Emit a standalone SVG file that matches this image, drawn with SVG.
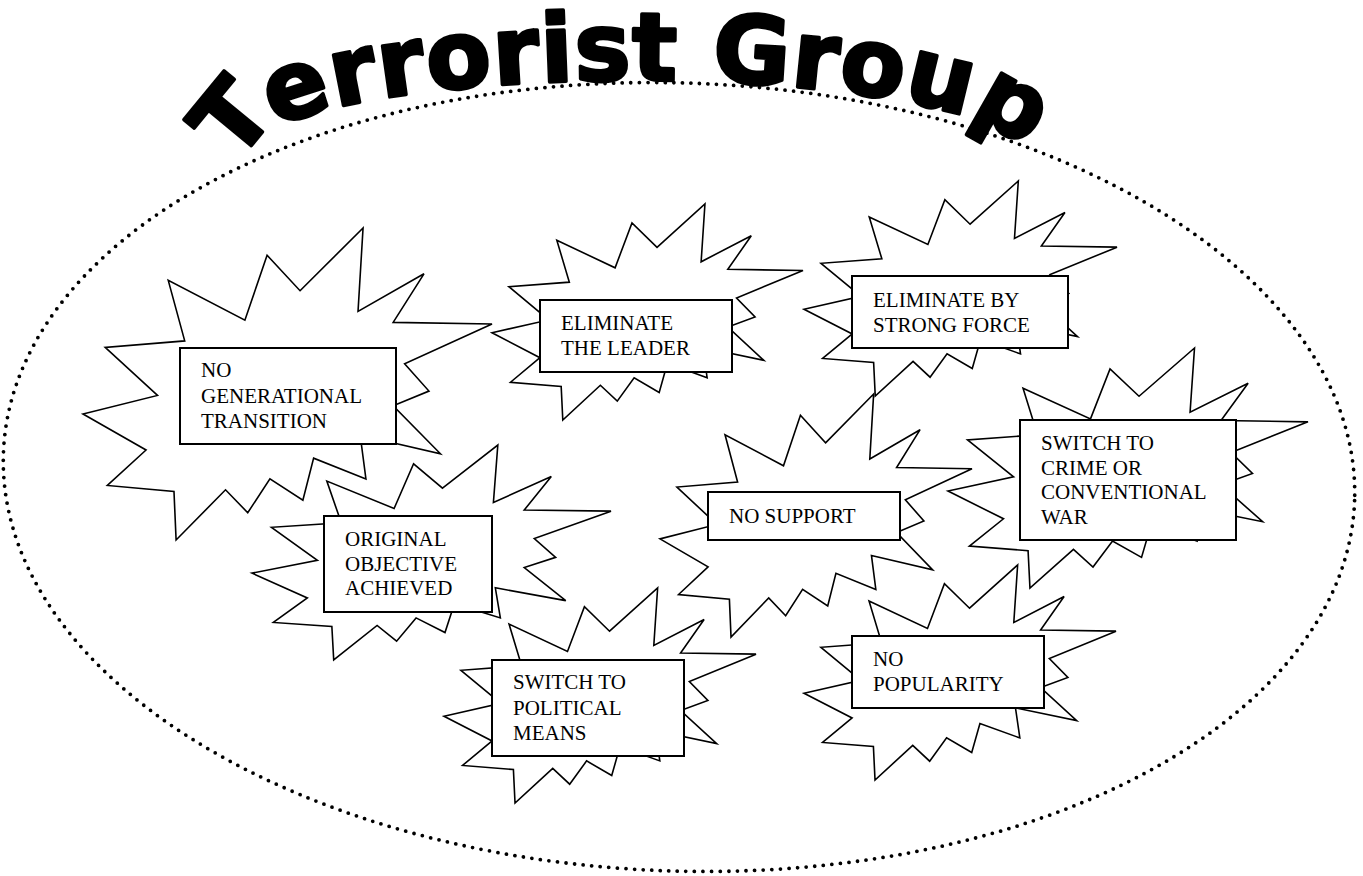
<svg xmlns="http://www.w3.org/2000/svg" width="1363" height="876" viewBox="0 0 1363 876">
<style>
.seal{fill:#fff;stroke:#000;stroke-width:1.6;vector-effect:non-scaling-stroke}
.box{fill:#fff;stroke:#000;stroke-width:2}
.lbl{font-size:21px;fill:#000}
.title{font-weight:700;font-size:94px;fill:#000;stroke:#000;stroke-width:3.5;stroke-linejoin:round;letter-spacing:1px}
</style>
<defs>
<path id="seal" class="seal" d="M0.53065,0.20102 L0.68472,0 L0.67245,0.26745 L0.83366,0.14685 L0.75833,0.30241 L1,0.30764 L0.78634,0.43528 L0.84583,0.52269 L0.75833,0.56991 L0.87394,0.72370 L0.67778,0.66435 L0.69176,0.80417 L0.56389,0.73773 L0.53759,0.87231 L0.45704,0.80417 L0.40278,0.91259 L0.34847,0.83912 L0.22764,1 L0.22245,0.84444 L0.05949,0.82523 L0.15417,0.71157 L0,0.59616 L0.18218,0.53667 L0.05426,0.38287 L0.24870,0.36190 L0.20843,0.16782 L0.39583,0.29546 L0.45009,0.08736 Z"/>
<path id="arc" d="M261.5,174.4 A385.6,75 0 1 1 1006.5,174.4"/>
</defs>
<rect width="1363" height="876" fill="#fff"/>
<ellipse id="group-outline" cx="679" cy="477" rx="676" ry="394" transform="rotate(2 679 477)" fill="none" stroke="#000" stroke-width="3.8" stroke-linecap="round" stroke-dasharray="0 8.6"/>
<text class="title" font-family="DejaVu Sans, sans-serif"><textPath href="#arc" startOffset="11">Terrorist Group</textPath></text>
<g id="connectors"></g>
<g font-family="Liberation Serif, Times New Roman, serif">
<g id="n-nogen">
<use href="#seal" transform="translate(83,228) scale(409,312)"/>
<rect class="box" x="180" y="348" width="216" height="96"/>
<text class="lbl" font-family="Liberation Serif, serif" x="201" y="377">NO<tspan x="201" dy="25.5">GENERATIONAL</tspan><tspan x="201" dy="25.5">TRANSITION</tspan></text>
</g>
<g id="n-leader">
<use href="#seal" transform="translate(492,204) scale(311,216)"/>
<rect class="box" x="540" y="300" width="192" height="72"/>
<text class="lbl" font-family="Liberation Serif, serif" x="561" y="330">ELIMINATE<tspan x="561" dy="25">THE LEADER</tspan></text>
</g>
<g id="n-force">
<use href="#seal" transform="translate(804,181) scale(313,215)"/>
<rect class="box" x="852" y="276" width="216" height="72"/>
<text class="lbl" font-family="Liberation Serif, serif" x="873" y="307">ELIMINATE BY<tspan x="873" dy="25">STRONG FORCE</tspan></text>
</g>
<g id="n-support">
<use href="#seal" transform="translate(660,394) scale(312,243)"/>
<rect class="box" x="708" y="492" width="192" height="48"/>
<text class="lbl" font-family="Liberation Serif, serif" x="729" y="523">NO SUPPORT</text>
</g>
<g id="n-crime">
<use href="#seal" transform="translate(948,348) scale(360,240)"/>
<rect class="box" x="1020" y="420" width="216" height="120"/>
<text class="lbl" font-family="Liberation Serif, serif" x="1041" y="450">SWITCH TO<tspan x="1041" dy="24.5">CRIME OR</tspan><tspan x="1041" dy="24.5">CONVENTIONAL</tspan><tspan x="1041" dy="24.5">WAR</tspan></text>
</g>
<g id="n-original">
<use href="#seal" transform="translate(252,445) scale(359,215)"/>
<rect class="box" x="324" y="516" width="168" height="96"/>
<text class="lbl" font-family="Liberation Serif, serif" x="345" y="546">ORIGINAL<tspan x="345" dy="24.5">OBJECTIVE</tspan><tspan x="345" dy="24.5">ACHIEVED</tspan></text>
</g>
<g id="n-political">
<use href="#seal" transform="translate(444,588) scale(312,215)"/>
<rect class="box" x="492" y="660" width="192" height="96"/>
<text class="lbl" font-family="Liberation Serif, serif" x="513" y="689">SWITCH TO<tspan x="513" dy="25.5">POLITICAL</tspan><tspan x="513" dy="25.5">MEANS</tspan></text>
</g>
<g id="n-popularity">
<use href="#seal" transform="translate(804,565) scale(312,215)"/>
<rect class="box" x="852" y="636" width="192" height="72"/>
<text class="lbl" font-family="Liberation Serif, serif" x="873" y="666">NO<tspan x="873" dy="25">POPULARITY</tspan></text>
</g>
</g>
</svg>
